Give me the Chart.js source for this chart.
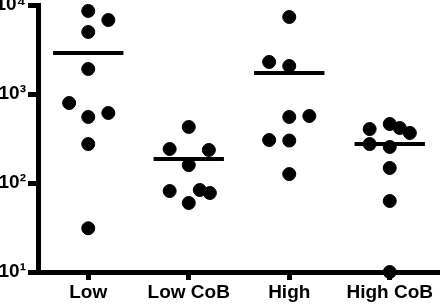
<!DOCTYPE html>
<html>
<head>
<meta charset="utf-8">
<script src="https://cdn.jsdelivr.net/npm/chart.js@4/dist/chart.umd.min.js"></script>
<style>
  html, body { margin: 0; padding: 0; background: #fff; }
  #wrap { width: 440px; height: 304px; position: relative; }
</style>
</head>
<body>
<div id="wrap"><canvas id="c"></canvas></div>
<script>
// ---- data ----
const categories = ['Low', 'Low CoB', 'High', 'High CoB'];

const lowValues     = [8570, 6780, 4975, 1910, 792, 612, 552, 274, 31];
const lowJitter     = [0, 0.2, 0, 0, -0.19, 0.2, 0, 0, 0];

const lowCoBValues  = [426, 241, 235, 159, 81.3, 83.4, 77.2, 59.6];
const lowCoBJitter  = [0, -0.19, 0.2, 0, -0.19, 0.11, 0.21, 0];

const highValues    = [7330, 2290, 2065, 552, 566, 304, 300, 126];
const highJitter    = [0, -0.2, 0, 0, 0.2, -0.2, 0, 0];

const highCoBValues = [460, 404, 415, 365, 274, 254, 147.5, 62.8, 10];
const highCoBJitter = [0, -0.2, 0.1, 0.2, -0.2, 0, 0, 0, 0];

const groupMeans    = [2890, 186, 1722, 274];

const yTickValues   = [10, 100, 1000, 10000];
const yTickLabels   = ['10\u00B9', '10\u00B2', '10\u00B3', '10\u2074'];

// ---- build datasets ----
const groups = [
  [lowValues, lowJitter],
  [lowCoBValues, lowCoBJitter],
  [highValues, highJitter],
  [highCoBValues, highCoBJitter]
];

const datasets = [];
groups.forEach(([vals, jit], gi) => {
  datasets.push({
    type: 'scatter',
    data: vals.map((v, i) => ({ x: gi + 1 + jit[i], y: v })),
    backgroundColor: '#000',
    borderColor: '#000',
    borderWidth: 1,
    pointRadius: 6.5,
    pointHoverRadius: 6.5,
    clip: false
  });
});
groupMeans.forEach((m, gi) => {
  datasets.push({
    type: 'line',
    data: [{ x: gi + 1 - 0.35, y: m }, { x: gi + 1 + 0.35, y: m }],
    borderColor: '#000',
    borderWidth: 4,
    pointRadius: 0,
    fill: false,
    clip: false
  });
});

const tickFont = { family: "'Liberation Sans', Arial, sans-serif", size: 19, weight: 'bold' };

new Chart(document.getElementById('c'), {
  data: { datasets },
  options: {
    responsive: true,
    maintainAspectRatio: false,
    animation: false,
    events: [],
    layout: { autoPadding: false, padding: { top: 5, right: 0, left: 0, bottom: 0 } },
    plugins: { legend: { display: false }, tooltip: { enabled: false } },
    scales: {
      x: {
        type: 'linear',
        min: 0.5,
        max: 4.5,
        afterBuildTicks: (s) => { s.ticks = categories.map((c, i) => ({ value: i + 1 })); },
        afterFit: (s) => { s.height = 32; s.paddingLeft = 0; s.paddingRight = 0; },
        ticks: {
          color: '#000',
          font: tickFont,
          padding: 1,
          autoSkip: false,
          maxRotation: 0,
          callback: (v) => categories[Math.round(v) - 1]
        },
        grid: { drawOnChartArea: false, drawTicks: true, tickLength: 8, lineWidth: 5, color: '#000' },
        border: { display: true, width: 5, color: '#000' }
      },
      y: {
        type: 'logarithmic',
        min: 10,
        max: 10000,
        afterBuildTicks: (s) => { s.ticks = yTickValues.map(v => ({ value: v })); },
        afterFit: (s) => { s.width = 38; s.paddingTop = 0; s.paddingBottom = 0; },
        ticks: {
          color: '#000',
          font: tickFont,
          padding: 2,
          callback: (v) => yTickLabels[yTickValues.indexOf(v)]
        },
        grid: { drawOnChartArea: false, drawTicks: true, tickLength: 10, lineWidth: 5, color: '#000' },
        border: { display: true, width: 5, color: '#000' }
      }
    }
  }
});
</script>
</body>
</html>
